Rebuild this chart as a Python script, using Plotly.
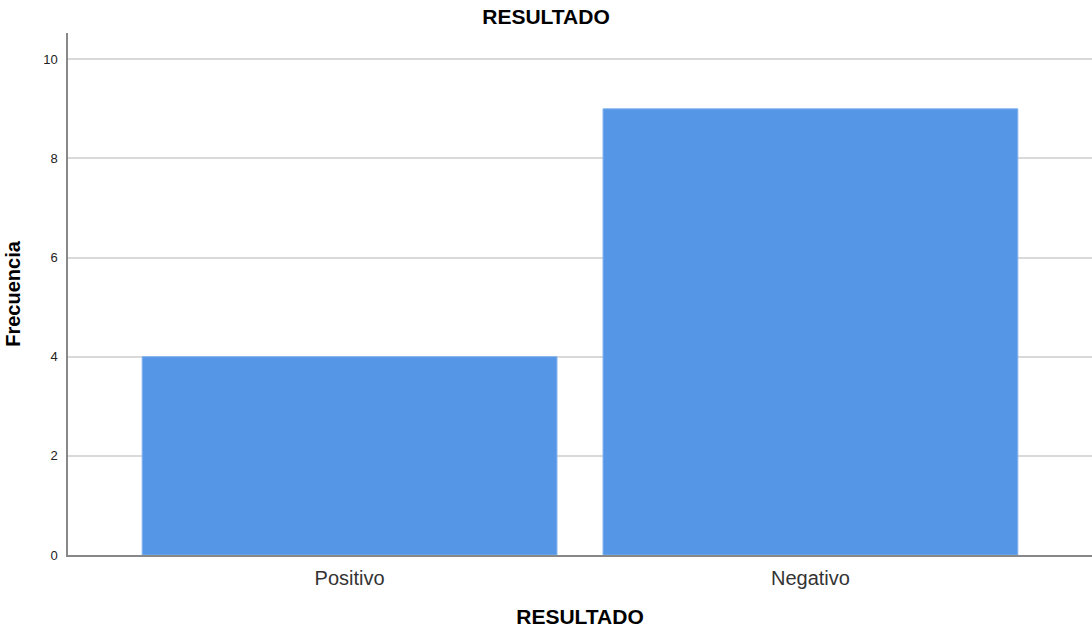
import plotly.graph_objects as go

# ---------- data ----------
categorias = ["Positivo", "Negativo"]
frecuencias = [4, 9]
y_ticks = [0, 2, 4, 6, 8, 10]

FONT = "Liberation Sans, Arial, sans-serif"

fig = go.Figure()
fig.add_trace(go.Bar(
    x=categorias, y=frecuencias, width=0.9,
    marker=dict(color="#5596e6", line=dict(color="#7fb0ee", width=1)),
    showlegend=False, hoverinfo="x+y",
))

fig.update_layout(
    width=1092, height=635,
    margin=dict(l=68, r=0, t=33, b=80),
    paper_bgcolor="white", plot_bgcolor="white",
    font=dict(family=FONT, color="#222"),
    title=dict(text="<b>RESULTADO</b>", x=0.5, xanchor="center",
               y=1 - 16.5 / 635, yanchor="middle", font=dict(size=21, color="black")),
    bargap=0.1,
)
fig.update_xaxes(
    range=[-0.611, 1.611], showgrid=False,
    showline=True, linecolor="#888", linewidth=1.5,
    ticks="", tickfont=dict(size=20, color="#333"), ticklabelstandoff=4,
    title=dict(text="<b>RESULTADO</b>", font=dict(size=21, color="black"), standoff=22),
)
fig.update_yaxes(
    range=[0, 10.53], tickvals=y_ticks, ticks="",
    showgrid=True, gridcolor="#d9d9d9", gridwidth=2,
    showline=True, linecolor="#888", linewidth=1.5, zeroline=False,
    tickfont=dict(size=13, color="#222"), ticklabelstandoff=6,
    title=dict(text="<b>Frecuencia</b>", font=dict(size=20, color="black"), standoff=17),
)

# drop the default page margin so the plot sits at the window's corner
fig.write_html("out.html", config={"displayModeBar": False},
               post_script="document.body.style.margin='0px';")
